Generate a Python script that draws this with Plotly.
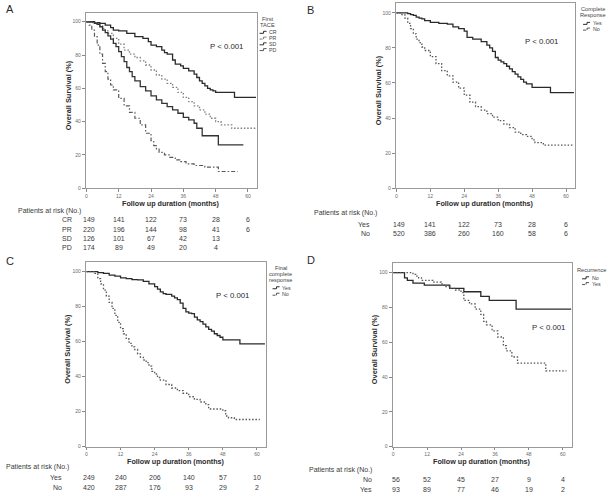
import plotly.graph_objects as go

W, H = 609, 497

# ---------------- data ----------------
tick_months = [0, 12, 24, 36, 48, 60]

# Panel A: First TACE
A_CR_t = [0, 3, 5, 7, 9, 10, 12, 15, 18, 21, 23, 24, 26, 28, 29, 30, 32, 33, 35, 36, 38, 40, 41, 42, 43, 44, 45, 46, 47, 48, 55, 63]
A_CR_s = [100, 99.5, 99, 98, 96.5, 95, 94.5, 93, 91, 90, 88, 86, 85, 83, 81.5, 80.5, 77, 74.5, 73.5, 72, 70.5, 68.5, 66.5, 64.5, 63, 61.5, 60, 59, 58.5, 57.5, 54.5, 54.5]
A_PR_t = [0, 2, 4, 5, 6, 7, 8, 10, 12, 14, 16, 18, 20, 22, 24, 26, 28, 30, 32, 34, 36, 38, 40, 42, 44, 46, 48, 50, 54, 63]
A_PR_s = [100, 99.5, 98.5, 97.5, 96, 94.5, 93, 90, 86.5, 83, 80.5, 78.5, 76.5, 74, 71, 68, 65.5, 63, 60.5, 57.5, 54.5, 52, 49.5, 47, 44.5, 42, 40, 38, 36, 36]
A_SD_t = [0, 3, 4, 5, 6, 7, 8, 9, 10, 11, 12, 13, 14, 15, 16, 17, 18, 20, 22, 24, 26, 28, 30, 32, 34, 36, 38, 40, 41, 43, 49, 58.3]
A_SD_s = [100, 99, 98.5, 97, 95, 93.5, 91.5, 89.5, 87, 85, 82, 79, 76, 72.5, 70, 67, 64.5, 61, 58.5, 55.5, 53, 51, 49, 47, 45, 42.5, 41, 39, 36, 31.5, 26, 26]
A_PD_t = [0, 1, 2, 3, 4, 5, 6, 7, 8, 9, 10, 12, 14, 16, 18, 20, 22, 24, 25, 26, 27, 29, 31, 33, 35, 37, 40, 44, 49, 56.2]
A_PD_s = [100, 98, 95, 91, 86, 80.5, 75, 70, 65.5, 62, 59, 54, 49.5, 45.5, 42, 38, 33, 28.5, 25.5, 23.5, 21.5, 20, 18.5, 17, 16, 14.6, 13.6, 12.6, 10, 10]
A_risk_CR = [149, 141, 122, 73, 28, 6]
A_risk_PR = [220, 196, 144, 98, 41, 6]
A_risk_SD = [126, 101, 67, 42, 13]
A_risk_PD = [174, 89, 49, 20, 4]

# Panel B: Complete Response
B_Yes_t = [0, 4, 5, 6, 7, 8, 9, 10, 12, 15, 18, 20, 22, 24, 25, 27, 30, 32, 33, 34, 35, 36, 37, 38, 39, 40, 41, 42, 43, 44, 45, 46, 48, 54.5, 62.8]
B_Yes_s = [100, 99.5, 99, 98.5, 97.5, 97, 96.5, 95.5, 94.5, 94, 93.5, 92, 91, 89.5, 86, 85, 83.5, 81.5, 80, 78, 74.5, 73, 72, 71, 69.5, 68, 66.5, 65, 63.5, 62, 60.5, 59.5, 57.5, 54.5, 54.5]
B_No_t = [0, 1.5, 3, 4, 5, 6, 7, 8, 9, 10, 12, 14, 16, 18, 20, 22, 24, 26, 28, 30, 32, 34, 36, 38, 40, 42, 44, 46, 48, 49, 52, 62.8]
B_No_s = [100, 99, 97, 94, 91, 88, 85, 83, 80.5, 78.5, 75, 71, 67, 64, 60.5, 57, 53, 49, 46.5, 44.5, 42.5, 40.5, 38.5, 36.5, 34.5, 32, 30.5, 29.5, 27.5, 26, 24.5, 24.5]
B_risk_Yes = [149, 141, 122, 73, 28, 6]
B_risk_No = [520, 386, 260, 160, 58, 6]

# Panel C: Final complete response
C_Yes_t = [0, 4, 6, 8, 10, 12, 14, 16, 18, 20, 22, 24, 25, 26, 27, 28, 30, 31, 32, 33, 34, 35, 36, 37, 38, 39, 40, 41, 42, 43, 44, 45, 46, 47, 48, 54, 62.8]
C_Yes_s = [100, 99.5, 99, 98, 97.5, 96.5, 96, 95.5, 95.3, 94.5, 93, 91.5, 90, 88.5, 87.5, 87, 86, 85, 84, 82, 79, 77, 76.3, 76, 74, 72.5, 71.5, 70, 68.5, 67, 66, 64.5, 63.5, 62.5, 61, 58.7, 58.7]
C_No_t = [0, 3, 4, 5, 6, 7, 8, 9, 10, 11, 12, 13, 14, 15, 16, 17, 18, 19, 20, 21, 22, 23, 24, 25, 26, 28, 30, 32, 34, 36, 38, 40, 42, 43, 48, 49, 50, 52, 61]
C_No_s = [100, 99, 96, 93, 89.5, 86, 82.5, 79, 75, 71, 67.5, 64.5, 61.5, 59, 57, 55.5, 53, 51, 49.5, 48, 46, 43, 41.5, 39.5, 38, 35.5, 33.5, 32, 30.5, 28.5, 27, 25.5, 24, 21.5, 20.5, 17.5, 16.5, 15.5, 15.5]
C_risk_Yes = [249, 240, 206, 140, 57, 10]
C_risk_No = [420, 287, 176, 93, 29, 2]

# Panel D: Recurrence
D_No_t = [0, 4, 5, 7, 11, 20, 25, 31, 34, 43.5, 63]
D_No_s = [100, 97, 95.5, 94, 92.8, 91, 89, 86.3, 84, 79, 79]
D_Yes_t = [0, 7, 8, 9, 10, 14, 17, 18, 20, 22, 24, 25, 27, 29, 31, 32, 33, 35, 37, 39, 40, 42, 44, 54, 61.3]
D_Yes_s = [100, 99, 98, 97, 95.5, 94.5, 93.5, 92, 91, 90, 88.5, 84, 82, 79, 76, 72, 70, 66.5, 63, 58, 55, 51.5, 48, 43.5, 43.5]
D_risk_No = [56, 52, 45, 27, 9, 4]
D_risk_Yes = [93, 89, 77, 46, 19, 2]

p_text = "P < 0.001"

# ---------------- layout helpers ----------------
def px(x):
    return x / W

def py(y):
    return 1 - y / H

FONT = "Liberation Sans"
DARK = "#2b2b2b"
GRAY = "#6a6a6a"
DOT = "1.5px,1.8px"

# panel geometry (pixels): left, right, top, bottom
panels = {
    "A": dict(ax="", l=85, r=256, t=13, b=189.3),
    "B": dict(ax="2", l=395.5, r=575, t=3.5, b=189.3),
    "C": dict(ax="3", l=85, r=265.5, t=264, b=449.3),
    "D": dict(ax="4", l=392.3, r=571.7, t=265, b=449.3),
}

fig = go.Figure()

def add_curve(panel, t, s, name, color, dash, width=1.3):
    a = panels[panel]["ax"]
    fig.add_trace(go.Scatter(
        x=t, y=s, mode="lines", name=name, line_shape="hv",
        line=dict(color=color, dash=dash, width=width),
        xaxis="x" + a, yaxis="y" + a, showlegend=False, hoverinfo="skip"))

add_curve("A", A_CR_t, A_CR_s, "CR", "#2a2a2a", "solid")
add_curve("A", A_PR_t, A_PR_s, "PR", "#808080", DOT, 1.3)
add_curve("A", A_SD_t, A_SD_s, "SD", "#333333", "solid", 1.3)
add_curve("A", A_PD_t, A_PD_s, "PD", "#5a5a5a", "4px,2px,1.5px,2px", 1.2)
add_curve("B", B_Yes_t, B_Yes_s, "Yes", "#2a2a2a", "solid")
add_curve("B", B_No_t, B_No_s, "No", "#555555", DOT, 1.3)
add_curve("C", C_Yes_t, C_Yes_s, "Yes", "#2a2a2a", "solid")
add_curve("C", C_No_t, C_No_s, "No", "#555555", DOT, 1.3)
add_curve("D", D_No_t, D_No_s, "No", "#2a2a2a", "solid")
add_curve("D", D_Yes_t, D_Yes_s, "Yes", "#555555", DOT, 1.3)

layout = dict(
    width=W, height=H, margin=dict(l=0, r=0, t=0, b=0),
    paper_bgcolor="white", plot_bgcolor="white",
    font=dict(family=FONT, color=DARK, size=7),
    showlegend=False,
)

for key, p in panels.items():
    a = p["ax"]
    layout["xaxis" + a] = dict(
        domain=[px(p["l"]), px(p["r"])], range=[-0.2, 63.2], anchor="y" + a,
        tickvals=tick_months, ticks="outside", ticklen=2.5, tickcolor="#888",
        tickfont=dict(size=5, color=GRAY), showgrid=False, zeroline=False,
        showline=True, mirror=True, linecolor="#9a9a9a", linewidth=1)
    layout["yaxis" + a] = dict(
        domain=[py(p["b"]), py(p["t"])], range=[0, 105.3], anchor="x" + a,
        tickvals=[0, 20, 40, 60, 80, 100], ticks="outside", ticklen=3, tickcolor="#888",
        tickfont=dict(size=5, color=GRAY), showgrid=False, zeroline=False,
        showline=True, mirror=True, linecolor="#9a9a9a", linewidth=1)

fig.update_layout(**layout)

ann = []
shapes = []

def text(x, y, s, size=7, bold=False, xanchor="left", color=DARK, angle=0, xref="paper", yanchor="middle"):
    ann.append(dict(x=x, y=y, xref=xref, yref="paper", text=("<b>%s</b>" % s) if bold else s,
                    showarrow=False, xanchor=xanchor, yanchor=yanchor, textangle=angle,
                    font=dict(size=size, color=color, family=FONT)))

# panel letters
text(px(3), py(9), "A", size=11)
text(px(304), py(10), "B", size=11)
text(px(3), py(263), "C", size=11)
text(px(304), py(262), "D", size=11)

# axis titles and P values
for key, p in panels.items():
    cx = (p["l"] + p["r"]) / 2
    text(px(cx), py(p["b"] + 15), "Follow up duration (months)", size=7.2, bold=True, xanchor="center")
    cy = p["t"] + (p["b"] - p["t"]) * 0.47
    text(px(p["l"] - 18), py(cy), "Overall Survival (%)", size=7.4, bold=True, xanchor="center", angle=-90)

text(px(207), py(47), p_text, size=7.8)
text(px(523), py(42), p_text, size=7.8)
text(px(213), py(297), p_text, size=7.8)
text(px(530), py(329), p_text, size=7.8)

# risk tables
def risk_table(panel, title_x, title_y, rows, label_right, row_y):
    a = panels[panel]["ax"]
    text(px(title_x), py(title_y), "Patients at risk (No.)", size=7, color="#3a3a3a")
    for (label, vals), yy in zip(rows, row_y):
        text(px(label_right), py(yy), label, size=7, xanchor="right", color="#3a3a3a")
        for m, v in zip(tick_months, vals):
            text(m + 1.0 if m == 0 else m, py(yy), str(v), size=7, xanchor="center",
                 xref="x" + a, color="#3a3a3a")

risk_table("A", 15, 212, [("CR", A_risk_CR), ("PR", A_risk_PR), ("SD", A_risk_SD), ("PD", A_risk_PD)],
           73, [221, 230.5, 240, 249])
risk_table("B", 312, 214, [("Yes", B_risk_Yes), ("No", B_risk_No)], 372, [226, 235])
risk_table("C", 3, 470, [("Yes", C_risk_Yes), ("No", C_risk_No)], 63, [480, 490])
risk_table("D", 307, 473, [("No", D_risk_No), ("Yes", D_risk_Yes)], 374, [482, 492])

# legends (decorations)
def legend(title_lines, title_cx, title_y0, items, sample_x0, item_y0, step=5.8, size=5.3):
    for i, tl in enumerate(title_lines):
        text(px(title_cx), py(title_y0 + i * 6), tl, size=size + 0.4, xanchor="center", color="#444")
    for j, (lab, color, dash) in enumerate(items):
        yy = item_y0 + j * step
        for (xa, ya, xb, yb) in [(0, 1, 4, 1), (4, 1, 4, -1), (4, -1, 7, -1)]:
            shapes.append(dict(type="line", xref="paper", yref="paper",
                               x0=px(sample_x0 + xa), x1=px(sample_x0 + xb),
                               y0=py(yy + ya), y1=py(yy + yb),
                               line=dict(color=color, width=1, dash=dash)))
        text(px(sample_x0 + 7.5), py(yy), lab, size=size, color="#444")

legend(["First", "TACE"], 267, 19, [("CR", "#2a2a2a", "solid"), ("PR", "#808080", "dot"),
                                    ("SD", "#333333", "solid"), ("PD", "#5a5a5a", "dash")], 259, 32.5)
legend(["Complete", "Response"], 593, 9.5, [("Yes", "#2a2a2a", "solid"), ("No", "#555555", "dot")], 583, 23.5)
legend(["Final", "complete", "response"], 280, 269.5, [("Yes", "#2a2a2a", "solid"), ("No", "#555555", "dot")], 272, 289.5, step=6.5)
legend(["Recurrence"], 591, 272, [("No", "#2a2a2a", "solid"), ("Yes", "#555555", "dot")], 582, 279.5)

fig.update_layout(annotations=ann, shapes=shapes)
fig.write_html("out.html", config={"displayModeBar": False},
               post_script="document.body.style.margin='0';document.body.style.overflow='hidden';")
